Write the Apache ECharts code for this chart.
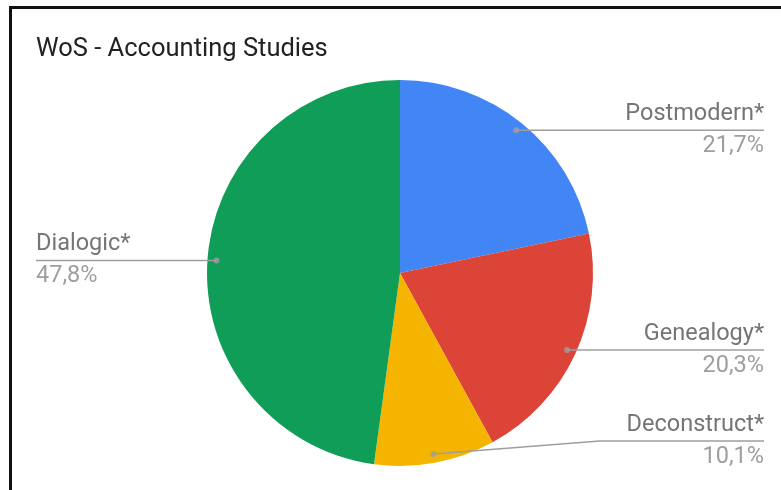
<!DOCTYPE html>
<html>
<head>
<meta charset="utf-8">
<script src="https://cdn.jsdelivr.net/npm/echarts@6/dist/echarts.min.js"></script>
<style>
  html, body { margin: 0; padding: 0; background: #fff; }
  #chart { position: absolute; left: 0; top: 0; width: 781px; height: 490px; }
  #frame { position: absolute; left: 9px; top: 6px; width: 900px; height: 600px;
           border-left: 3px solid #111; border-top: 3px solid #111; pointer-events: none; }
</style>
</head>
<body>
<div id="chart"></div>
<div id="frame"></div>
<script>
const titleText = 'WoS - Accounting Studies';
const categories = ['Postmodern*', 'Genealogy*', 'Deconstruct*', 'Dialogic*'];
const values = [21.7, 20.3, 10.1, 47.8];
const colors = ['#4285F4', '#DB4437', '#F4B400', '#0F9D58'];

const chart = echarts.init(document.getElementById('chart'), null, { renderer: 'canvas' });

const FONT = 'Roboto, "Noto Sans", sans-serif';
const CENTER = [400, 273];
const R_OUTER = 193;
const R_ANCHOR = 184;

function fmtPct(v) { return v.toFixed(1).replace('.', ',') + '%'; }

const total = values.reduce((a, b) => a + b, 0);
// mid-angle (in value units) of each slice, for the anchor dots
const mids = [];
values.reduce((acc, v) => { mids.push(acc + v / 2); return acc + v; }, 0);

const pieData = categories.map((c, i) => ({ name: c, value: values[i], itemStyle: { color: colors[i] } }));

const labelData = categories.map((c, i) => {
  const item = { name: c, value: values[i] };
  if (i === 3) item.label = { edgeDistance: 36 };
  return item;
});

const H = 490;

const option = {
  animation: false,
  title: {
    text: titleText,
    left: 31, top: 32,
    textStyle: { fontFamily: FONT, fontSize: 25.5, fontWeight: 'normal', color: '#222222' }
  },
  polar: { center: CENTER, radius: R_ANCHOR },
  angleAxis: { type: 'value', min: 0, max: total, startAngle: 90, clockwise: true, show: false },
  radiusAxis: { type: 'value', min: 0, max: 1, show: false },
  series: [
    {
      type: 'pie',
      center: CENTER,
      radius: R_OUTER,
      startAngle: 90,
      silent: true,
      z: 1,
      label: { show: false },
      labelLine: { show: false },
      itemStyle: { borderWidth: 0 },
      data: pieData
    },
    {
      type: 'pie',
      center: CENTER,
      radius: R_ANCHOR,
      startAngle: 90,
      silent: true,
      z: 5,
      itemStyle: { color: 'rgba(0,0,0,0)' },
      label: {
        show: true,
        alignTo: 'edge',
        edgeDistance: 17,
        distanceToLabelLine: 0,
        fontFamily: FONT,
        formatter: function (p) { return '{name|' + p.name + '}\n{per|' + fmtPct(p.value) + '}'; },
        rich: {
          name: { fontFamily: FONT, fontSize: 23.5, color: '#757575', lineHeight: 32 },
          per: { fontFamily: FONT, fontSize: 23.5, color: '#9e9e9e', lineHeight: 32 }
        }
      },
      labelLine: {
        show: true,
        length: 0,
        length2: 10,
        lineStyle: { color: '#9e9e9e', width: 1.5 }
      },
      labelLayout: function (params) {
        const r = params.labelRect;
        const pts = params.labelLinePoints;
        if (!pts) return {};
        const limit = H - 21;
        const dy = (r.y + r.height > limit) ? limit - (r.y + r.height) : 0;
        const isRight = pts[2][0] >= pts[0][0];
        const farX = isRight ? r.x + r.width : r.x;
        const y = pts[2][1] + dy;
        const bend = dy ? [pts[2][0] - 27, y] : pts[1];
        return { dy: dy, labelLinePoints: [pts[0], bend, [farX, y]] };
      },
      data: labelData
    },
    {
      type: 'scatter',
      coordinateSystem: 'polar',
      silent: true,
      z: 6,
      symbol: 'circle',
      symbolSize: 6,
      itemStyle: { color: '#9e9e9e' },
      data: mids.map(m => [1, m])
    }
  ]
};

chart.setOption(option);
</script>
</body>
</html>
